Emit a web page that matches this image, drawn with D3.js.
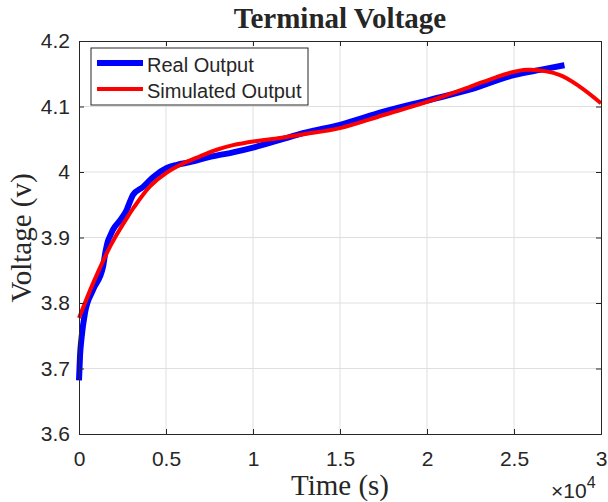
<!DOCTYPE html>
<html>
<head>
<meta charset="utf-8">
<script src="https://cdn.jsdelivr.net/npm/d3@7"></script>
<style>
  body { margin: 0; background: #fff; }
  text { fill: #262626; }
</style>
</head>
<body>
<div id="chart"></div>
<script>
// measured output of the cell (time in s, voltage in V)
const realTime = [0, 60, 155, 345, 805, 1379, 1500, 1667, 1782, 1954, 2356, 2740, 2931, 3103, 3678, 4253, 5040, 5632, 6379, 7529, 8850, 10115, 11551, 13000, 15000, 17500, 20000, 22500, 25000, 26500, 27900];
const realVolt = [3.682, 3.72, 3.749, 3.785, 3.820, 3.855, 3.875, 3.895, 3.902, 3.912, 3.926, 3.942, 3.955, 3.965, 3.977, 3.992, 4.006, 4.011, 4.015, 4.023, 4.030, 4.038, 4.049, 4.060, 4.072, 4.092, 4.109, 4.126, 4.148, 4.156, 4.163];

// model output
const simTime = [0, 805, 1782, 2069, 2759, 3103, 4080, 5040, 5977, 6954, 7912, 8850, 10115, 11551, 13000, 15000, 17500, 20000, 22471, 24000, 25172, 25920, 27644, 28793, 30000];
const simVolt = [3.777, 3.830, 3.886, 3.900, 3.930, 3.944, 3.978, 3.999, 4.013, 4.024, 4.034, 4.041, 4.047, 4.052, 4.058, 4.067, 4.087, 4.107, 4.130, 4.145, 4.154, 4.156, 4.148, 4.130, 4.105];

const xTicks = [0, 5000, 10000, 15000, 20000, 25000, 30000];
const yTicks = [3.6, 3.7, 3.8, 3.9, 4.0, 4.1, 4.2];
const legendNames = ['Real Output', 'Simulated Output'];

const width = 608, height = 502;
const margin = {top: 41, right: 7, bottom: 68, left: 79};
const innerW = width - margin.left - margin.right;
const innerH = height - margin.top - margin.bottom;
const sans = 'Liberation Sans, Arial, Helvetica, sans-serif';
const serif = 'Liberation Serif, Times New Roman, serif';

const svg = d3.select('#chart').append('svg')
  .attr('width', width).attr('height', height);

const x = d3.scaleLinear().domain([0, 30000]).range([0, innerW]);
const y = d3.scaleLinear().domain([3.6, 4.2]).range([innerH, 0]);

const g = svg.append('g').attr('transform', `translate(${margin.left},${margin.top})`);

// grid
g.selectAll('.vgrid').data(xTicks.slice(1, -1)).enter().append('line')
  .attr('x1', d => x(d)).attr('x2', d => x(d)).attr('y1', 0).attr('y2', innerH)
  .attr('stroke', '#dfdfdf').attr('stroke-width', 1);
g.selectAll('.hgrid').data(yTicks.slice(1, -1)).enter().append('line')
  .attr('y1', d => y(d)).attr('y2', d => y(d)).attr('x1', 0).attr('x2', innerW)
  .attr('stroke', '#dfdfdf').attr('stroke-width', 1);

// lines
svg.append('clipPath').attr('id', 'clip')
  .append('rect').attr('x', -3).attr('y', -3).attr('width', innerW + 3).attr('height', innerH + 6);

const realLine = d3.line().curve(d3.curveMonotoneX).x(d => x(d[0])).y(d => y(d[1]));
const simLine = d3.line().curve(d3.curveCatmullRom.alpha(0.5)).x(d => x(d[0])).y(d => y(d[1]));
const realData = realTime.map((t, i) => [t, realVolt[i]]);
const simData = simTime.map((t, i) => [t, simVolt[i]]);

g.append('path').datum(realData).attr('d', realLine)
  .attr('fill', 'none').attr('stroke', '#0000ff').attr('stroke-width', 6);
g.append('path').datum(simData).attr('d', simLine)
  .attr('clip-path', 'url(#clip)')
  .attr('fill', 'none').attr('stroke', '#ff0000').attr('stroke-width', 4);

// axes (MATLAB style box, ticks inward)
const xAxis = d3.axisBottom(x).tickValues(xTicks).tickSize(-5).tickPadding(17)
  .tickFormat(d => d3.format('~g')(d / 10000));
const yAxis = d3.axisLeft(y).tickValues(yTicks).tickSize(-5).tickPadding(9)
  .tickFormat(d => d3.format('~g')(d));

g.append('g').attr('transform', `translate(0,${innerH})`).call(xAxis);
g.append('g').call(yAxis);
g.append('g').call(d3.axisTop(x).tickValues(xTicks).tickSize(-5).tickFormat(''));
g.append('g').attr('transform', `translate(${innerW},0)`)
  .call(d3.axisRight(y).tickValues(yTicks).tickSize(-5).tickFormat(''));

g.selectAll('.domain').attr('stroke', '#262626');
g.selectAll('.tick line').attr('stroke', '#262626');
g.selectAll('.tick text')
  .attr('font-family', sans)
  .attr('font-size', 21).attr('fill', '#262626');

// exponent
const expo = svg.append('text')
  .attr('x', 551).attr('y', 498)
  .attr('font-family', sans)
  .attr('font-size', 21);
expo.append('tspan').text('\u00d710');
expo.append('tspan').attr('dy', -10).attr('font-size', 16).text('4');

// title and axis labels
svg.append('text')
  .attr('x', 340).attr('y', 28)
  .attr('text-anchor', 'middle')
  .attr('font-family', serif)
  .attr('font-weight', 'bold').attr('font-size', 29)
  .text('Terminal Voltage');

svg.append('text')
  .attr('x', 340).attr('y', 495)
  .attr('text-anchor', 'middle')
  .attr('font-family', serif)
  .attr('font-size', 29)
  .text('Time (s)');

svg.append('text')
  .attr('transform', `translate(31,238) rotate(-90)`)
  .attr('text-anchor', 'middle')
  .attr('font-family', serif)
  .attr('font-size', 29)
  .text('Voltage (v)');

// legend
const legend = svg.append('g').attr('transform', 'translate(91,48)');
legend.append('rect').attr('width', 217).attr('height', 57)
  .attr('fill', '#fff').attr('stroke', '#262626').attr('stroke-width', 1);
const legColors = ['#0000ff', '#ff0000'];
const legWidths = [6, 4];
const item = legend.selectAll('.item').data(legendNames).enter().append('g')
  .attr('transform', (d, i) => `translate(0,${15 + i * 26})`);
item.append('line').attr('x1', 6).attr('x2', 52).attr('y1', 0).attr('y2', 0)
  .attr('stroke', (d, i) => legColors[i]).attr('stroke-width', (d, i) => legWidths[i]);
item.append('text').attr('x', 56).attr('y', 9)
  .attr('font-family', sans)
  .attr('font-size', 20)
  .text(d => d);
</script>
</body>
</html>
